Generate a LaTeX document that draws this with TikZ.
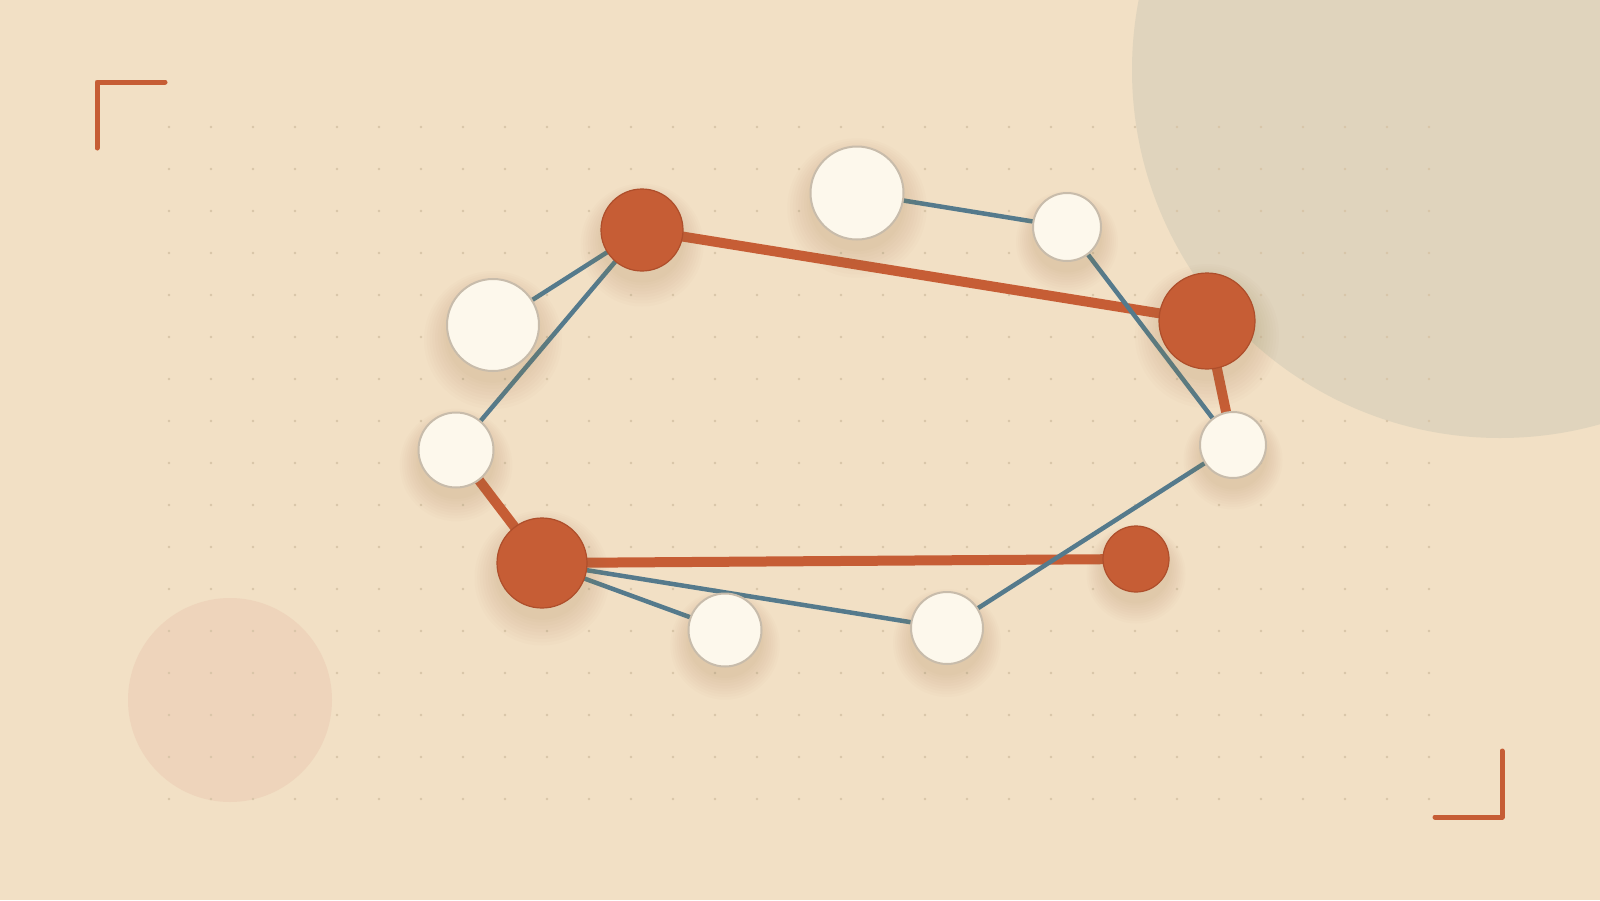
\documentclass[tikz,border=0pt]{standalone}
\usetikzlibrary{shadows}
\definecolor{bgc}{HTML}{F2E0C5}
\definecolor{bigc}{HTML}{E0D4BD}
\definecolor{pinkc}{HTML}{EED4BB}
\definecolor{dotc}{HTML}{D8C5A8}
\definecolor{orc}{HTML}{C65D35}
\definecolor{ordark}{HTML}{AE4E2B}
\definecolor{whc}{HTML}{FDF8EC}
\definecolor{whline}{HTML}{C8BCAB}
\definecolor{bluec}{HTML}{557A8C}
\definecolor{shc}{HTML}{A07C52}
\pgfdeclarelayer{bg}
\pgfdeclarelayer{edges}
\pgfsetlayers{bg,edges,main}
\tikzset{
  sh/.style={general shadow={fill=shc, opacity=.022, shadow scale=#1, shadow yshift=-10pt}},
  softshadow/.style={sh=1.50, sh=1.44, sh=1.38, sh=1.32, sh=1.26, sh=1.20, sh=1.14, sh=1.08, sh=1.03},
  orn/.style={circle, inner sep=0pt, fill=orc, draw=ordark, line width=1.2pt, softshadow},
  whn/.style={circle, inner sep=0pt, fill=whc, draw=whline, line width=2pt, softshadow},
  oredge/.style={draw=orc, line width=10pt},
  blueedge/.style={draw=bluec, line width=4.5pt},
  bracket/.style={draw=orc, line width=5pt, line cap=round, line join=round}
}
\begin{document}
\begin{tikzpicture}[x=1pt,y=-1pt]
\useasboundingbox (0,0) rectangle (1600,900);
\begin{pgfonlayer}{bg}
  \fill[bgc] (0,0) rectangle (1600,900);
  \fill[bigc] (1500,70) circle (368);
  \fill[pinkc] (230,700) circle (102);
  \foreach \i in {0,...,30}{
    \foreach \j in {0,...,16}{
      \fill[dotc] ({169+42*\i},{127+42*\j}) circle (1.4);
    }
  }
  \draw[bracket] (97,148) -- (97,82) -- (165,82);
  \draw[bracket] (1435,817) -- (1502,817) -- (1502,751);
\end{pgfonlayer}

\node[orn, minimum size=82pt] (A) at (642,230) {};
\node[whn, minimum size=92pt] (B) at (493,325) {};
\node[whn, minimum size=75pt] (C) at (456,450) {};
\node[orn, minimum size=90pt] (D) at (542,563) {};
\node[whn, minimum size=73pt] (E) at (725,630) {};
\node[whn, minimum size=72pt] (F) at (947,628) {};
\node[orn, minimum size=66pt] (G) at (1136,559) {};
\node[whn, minimum size=93pt] (H) at (857,193) {};
\node[whn, minimum size=68pt] (I) at (1067,227) {};
\node[orn, minimum size=96pt] (J) at (1207,321) {};
\node[whn, minimum size=66pt] (K) at (1233,445) {};

\begin{pgfonlayer}{edges}
  \draw[oredge] (A.center) -- (J.center);
  \draw[oredge] (J.center) -- (K.center);
  \draw[oredge] (C.center) -- (D.center);
  \draw[oredge] (D.center) -- (G.center);
  \draw[blueedge] (A.center) -- (B.center);
  \draw[blueedge] (A.center) -- (C.center);
  \draw[blueedge] (H.center) -- (I.center);
  \draw[blueedge] (I.center) -- (K.center);
  \draw[blueedge] (D.center) -- (E.center);
  \draw[blueedge] (D.center) -- (F.center);
  \draw[blueedge] (F.center) -- (K.center);
\end{pgfonlayer}
\end{tikzpicture}
\end{document}
